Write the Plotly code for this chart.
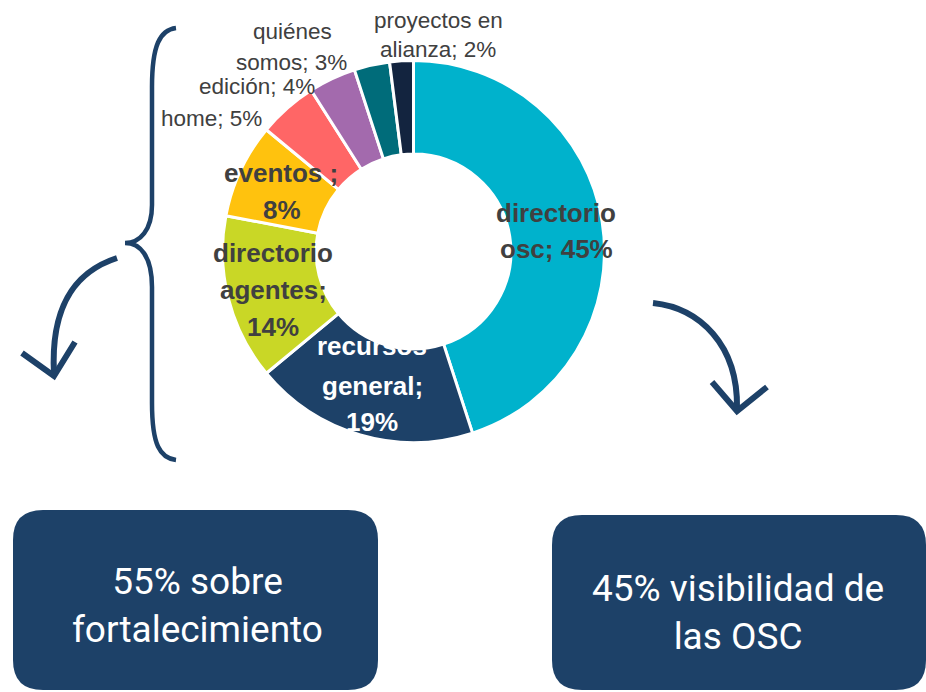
import plotly.graph_objects as go

# ---------------- data ----------------
categories = ["directorio osc", "recursos general", "directorio agentes", "eventos ",
              "home", "edición", "quiénes somos", "proyectos en alianza"]
values = [45, 19, 14, 8, 5, 4, 3, 2]
label_fmt = ["directorio<br>osc; {v}%", "recursos<br>general;<br>{v}%",
             "directorio<br>agentes;<br>{v}%", "eventos ;<br>{v}%", "home; {v}%",
             "edición; {v}%", "quiénes<br>somos; {v}%", "proyectos en<br>alianza; {v}%"]
box_texts = ["55% sobre<br>fortalecimiento", "45% visibilidad de<br>las OSC"]

# ---------------- style ----------------
colors = ["#00B2CC", "#1D4168", "#C9D726", "#FFC20E", "#FF6666", "#A36AAD", "#006C7A", "#13243F"]
W, H = 926, 692
NAVY = "#1D4168"


def X(p):
    return p / W


def Y(p):
    return 1 - p / H


def P(x, y):
    return f"{X(x):.5f},{Y(y):.5f}"


cx, cy, R = 413.5, 251.5, 191

fig = go.Figure()
fig.add_trace(go.Pie(
    labels=categories, values=values, sort=False, direction="clockwise", rotation=0,
    hole=0.51, textinfo="none", hoverinfo="label+percent",
    marker=dict(colors=colors, line=dict(color="white", width=3)),
    domain=dict(x=[X(cx - R), X(cx + R)], y=[Y(cy + R), Y(cy - R)]),
    showlegend=False,
))

# label line positions (pixel centres for each line)
line_pos = [
    [(556, 213), (556, 249)],
    [(372, 346), (372, 386), (372, 422)],
    [(273, 253), (273, 290), (273, 327)],
    [(281, 173), (282, 210)],
    [(211, 118)],
    [(257, 87)],
    [(292, 32), (291, 62)],
    [(438, 20), (438, 50)],
]
inside = [True, True, True, True, False, False, False, False]
font_colors = ["#404040", "white", "#404040", "#404040", "#404040", "#404040", "#404040", "#404040"]

annotations = []
for i, (fmt, v) in enumerate(zip(label_fmt, values)):
    lines = fmt.format(v=v).split("<br>")
    for line, (px, py) in zip(lines, line_pos[i]):
        txt = f"<b>{line}</b>" if inside[i] else line
        annotations.append(dict(
            x=X(px), y=Y(py), xref="paper", yref="paper", text=txt, showarrow=False,
            xanchor="center", yanchor="middle",
            font=dict(family="Liberation Sans, Arial", size=26 if inside[i] else 22.5,
                      color=font_colors[i]),
        ))

shapes = []
# curly brace
brace = (f"M {P(176,28)} C {P(160,30)} {P(152,45)} {P(152,87)} L {P(152,205)} "
         f"C {P(152,230)} {P(140,243)} {P(125,243)} "
         f"C {P(140,243)} {P(152,256)} {P(152,287)} L {P(152,403)} "
         f"C {P(152,445)} {P(160,458)} {P(176,460)}")
shapes.append(dict(type="path", xref="paper", yref="paper", path=brace,
                   line=dict(color=NAVY, width=4.5)))
# left arrow
shapes.append(dict(type="path", xref="paper", yref="paper",
                   path=f"M {P(117,258)} C {P(80,270)} {P(50,300)} {P(54,374)}",
                   line=dict(color=NAVY, width=6)))
shapes.append(dict(type="path", xref="paper", yref="paper",
                   path=f"M {P(22,353)} L {P(54,376)} L {P(75,342)}",
                   line=dict(color=NAVY, width=6)))
# right arrow
shapes.append(dict(type="path", xref="paper", yref="paper",
                   path=f"M {P(653,303)} C {P(700,308)} {P(738,345)} {P(737,408)}",
                   line=dict(color=NAVY, width=6)))
shapes.append(dict(type="path", xref="paper", yref="paper",
                   path=f"M {P(712,382)} L {P(737,411)} L {P(767,387)}",
                   line=dict(color=NAVY, width=6)))


def rrect(x0, y0, x1, y1, r):
    return (f"M {P(x0+r,y0)} L {P(x1-r,y0)} Q {P(x1,y0)} {P(x1,y0+r)} "
            f"L {P(x1,y1-r)} Q {P(x1,y1)} {P(x1-r,y1)} L {P(x0+r,y1)} "
            f"Q {P(x0,y1)} {P(x0,y1-r)} L {P(x0,y0+r)} Q {P(x0,y0)} {P(x0+r,y0)} Z")


boxes = [(13, 510, 378, 690), (552, 515, 926, 690)]
box_text_pos = [(197, 605), (738, 612)]
for (x0, y0, x1, y1), txt, (tx, ty) in zip(boxes, box_texts, box_text_pos):
    shapes.append(dict(type="path", xref="paper", yref="paper", path=rrect(x0, y0, x1, y1, 30),
                       fillcolor=NAVY, line=dict(color=NAVY, width=0), layer="below"))
    annotations.append(dict(x=X(tx), y=Y(ty), xref="paper", yref="paper", text=txt,
                            showarrow=False, xanchor="center", yanchor="middle",
                            font=dict(family="Roboto", size=37, color="white")))

fig.update_layout(
    width=W, height=H, margin=dict(l=0, r=0, t=0, b=0),
    paper_bgcolor="white", plot_bgcolor="white",
    shapes=shapes, annotations=annotations,
)
fig.write_html("out.html", config={"displayModeBar": False},
               post_script="document.body.style.margin='0';")
